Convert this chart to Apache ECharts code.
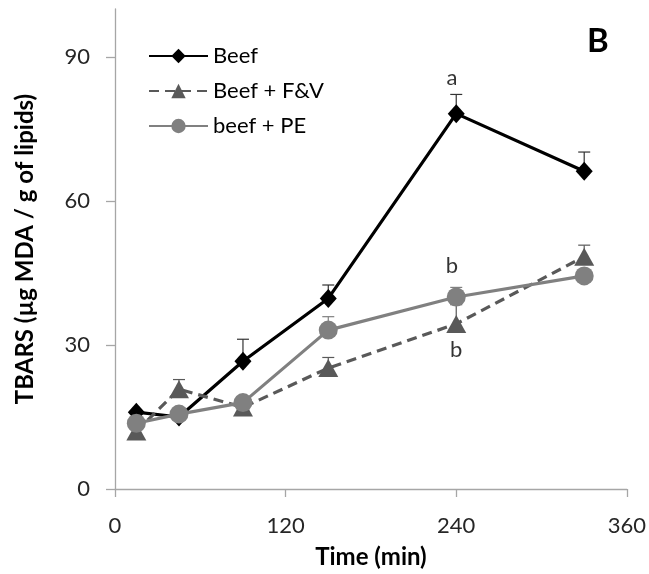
<!DOCTYPE html>
<html><head><meta charset="utf-8">
<script src="https://cdn.jsdelivr.net/npm/echarts@6/dist/echarts.min.js"></script>
<style>html,body{margin:0;padding:0;background:#fff}#c{width:649px;height:574px}</style>
</head><body><div id="c"></div>
<script>
var times = [15, 45, 90, 150, 240, 330];
var beef = [16, 15, 26.6, 39.7, 78.2, 66.2];
var beefErr = [0, 0, 4.6, 2.8, 4, 4];
var beefFV = [12, 20.8, 17, 25.2, 34.4, 48.4];
var beefFVErr = [0, 2, 0, 2.2, 4, 2.4];
var beefPE = [13.7, 15.6, 18, 33.1, 40, 44.4];
var beefPEErr = [0, 0, 0, 2.8, 2, 0];
var yTicks = [0, 30, 60, 90];
var annotations = [[237, 85.7, 'a'], [237, 46.4, 'b'], [240, 28.9, 'b']];

var FONT = 'Lato';
function pts(v){ return times.map(function(t,i){ return [t, v[i]]; }); }
function errData(v,e){ return times.map(function(t,i){ return [t, v[i], e[i]]; }).filter(function(d){return d[2]>0;}); }
function errSeries(v,e,color){
  return {
    type:'custom', z:1, silent:true,
    data: errData(v,e),
    renderItem:function(params, api){
      var p0 = api.coord([api.value(0), api.value(1)]);
      var p1 = api.coord([api.value(0), api.value(1)+api.value(2)]);
      return {type:'group', children:[
        {type:'line', shape:{x1:p0[0],y1:p0[1],x2:p1[0],y2:p1[1]}, style:{stroke:color,lineWidth:1.2}},
        {type:'line', shape:{x1:p1[0]-6,y1:p1[1],x2:p1[0]+6,y2:p1[1]}, style:{stroke:color,lineWidth:1.2}}
      ]};
    }
  };
}
var chart = echarts.init(document.getElementById('c'));
chart.setOption({
  animation:false,
  title:{text:'B', left:582, top:20, textStyle:{fontFamily:FONT, fontWeight:'bold', fontSize:33, color:'#000'}},
  legend:{
    left:143, top:40, orient:'vertical', itemGap:13, itemWidth:59, itemHeight:18,
    textStyle:{fontFamily:FONT, fontSize:22, color:'#000'},
    data:['Beef','Beef + F&V','beef + PE']
  },
  grid:{left:115, right:21, top:9, bottom:81, containLabel:false},
  xAxis:{
    type:'value', min:0, max:360, interval:120,
    name:'Time (min)', nameLocation:'middle', nameGap:56,
    nameTextStyle:{fontFamily:FONT, fontWeight:'bold', fontSize:24, color:'#000'},
    axisLine:{lineStyle:{color:'#a6a6a6', width:1.3}},
    axisTick:{show:true, length:8, lineStyle:{color:'#a6a6a6', width:1.3}},
    axisLabel:{fontFamily:FONT, fontSize:22, color:'#262626', margin:26},
    splitLine:{show:false}
  },
  yAxis:{
    type:'value', min:0, max:100, interval:10,
    name:'TBARS (µg MDA / g of lipids)', nameLocation:'middle', nameGap:78,
    nameTextStyle:{fontFamily:FONT, fontWeight:'bold', fontSize:24, color:'#000'},
    axisLine:{show:true, lineStyle:{color:'#a6a6a6', width:1.3}},
    axisTick:{show:true, length:9, customValues:yTicks, lineStyle:{color:'#a6a6a6', width:1.3}},
    axisLabel:{fontFamily:FONT, fontSize:22, color:'#262626', margin:25, customValues:yTicks},
    splitLine:{show:false}
  },
  series:[
    errSeries(beef, beefErr, '#333'),
    errSeries(beefFV, beefFVErr, '#595959'),
    errSeries(beefPE, beefPEErr, '#808080'),
    {name:'Beef', type:'line', z:3, data:pts(beef), symbol:'diamond', symbolSize:[17,19],
      lineStyle:{color:'#000', width:3.2}, itemStyle:{color:'#000'}},
    {name:'Beef + F&V', type:'line', z:4, data:pts(beefFV), symbol:'triangle', symbolSize:[20,18],
      lineStyle:{color:'#595959', width:3.2, type:[10,6]}, itemStyle:{color:'#595959'}},
    {name:'beef + PE', type:'line', z:5, data:pts(beefPE), symbol:'circle', symbolSize:19,
      lineStyle:{color:'#808080', width:3.2}, itemStyle:{color:'#808080'}},
    {type:'scatter', z:6, silent:true, symbolSize:0, data:annotations.map(function(a){return {value:[a[0],a[1]], label:{show:true, formatter:a[2]}};}),
      label:{position:'inside', fontFamily:FONT, fontSize:22, color:'#000'}}
  ]
});
</script></body></html>
